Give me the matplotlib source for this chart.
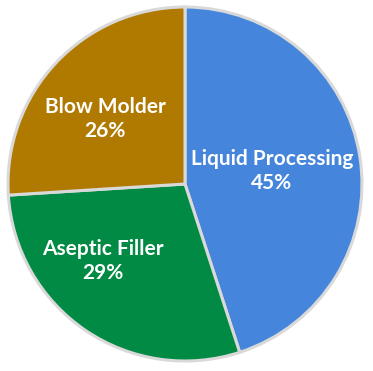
import matplotlib.pyplot as plt

# データ
categories = ['Liquid Processing', 'Aseptic Filler', 'Blow Molder']
shares = [45, 29, 26]
colors = ['#4586DC', '#008A44', '#B07A00']

# ラベルの位置 (画像上のピクセル, 左上基準)
label_px = [(272, 171), (103, 261), (105, 119)]

W, H = 373, 371
cx, cy, r = 185, 184, 177

plt.rcParams['font.family'] = ['Lato', 'DejaVu Sans']

fig = plt.figure(figsize=(W / 100, H / 100), dpi=100)
ax = fig.add_axes([0, 0, 1, 1])

wedges, _ = ax.pie(shares, colors=colors, startangle=90, counterclock=False,
                   radius=1.0, center=(0, 0),
                   wedgeprops=dict(edgecolor='#D9D9D9', linewidth=2.2))

ax.set_xlim(-cx / r, (W - cx) / r)
ax.set_ylim(-(H - cy) / r, cy / r)
ax.set_aspect('auto')
ax.axis('off')

for name, val, (px, py) in zip(categories, shares, label_px):
    x = (px - cx) / r
    y = (cy - py) / r
    ax.text(x, y, f'{name}\n{val}%', ha='center', va='center', color='white',
            fontsize=15, fontweight='bold', linespacing=1.25)

fig.savefig('out.png', dpi=100)
